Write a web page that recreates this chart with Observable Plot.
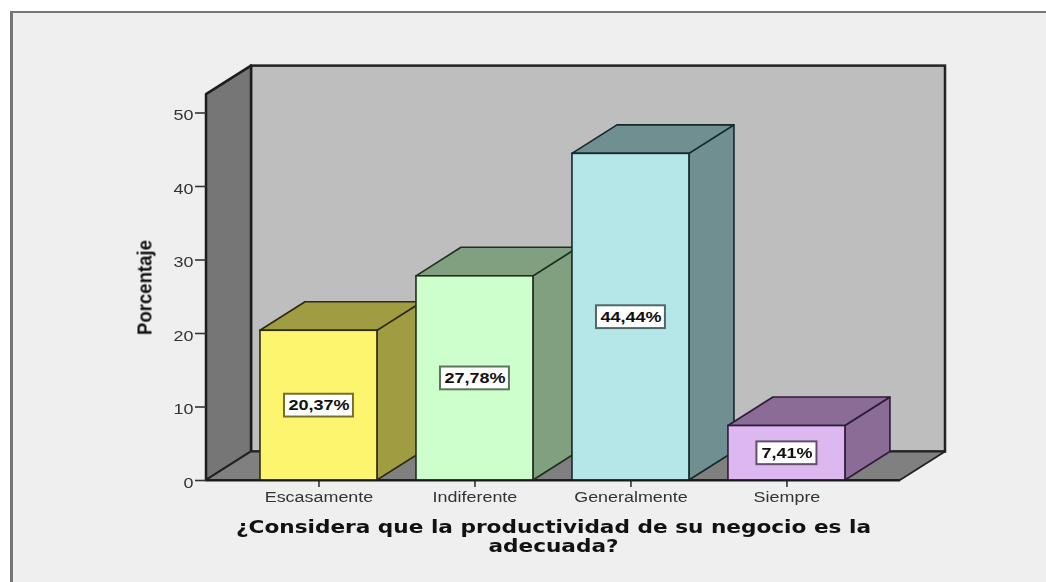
<!DOCTYPE html>
<html lang="es">
<head>
<meta charset="utf-8">
<script src="https://cdn.jsdelivr.net/npm/d3@7"></script>
<script src="https://cdn.jsdelivr.net/npm/@observablehq/plot@0.6"></script>
<style>
  html, body { margin: 0; padding: 0; background: #fff; width: 1046px; height: 582px; overflow: hidden; }
  #panel { position: absolute; left: 10px; top: 11px; right: 0; bottom: 0; background: #efefef;
           border-top: 2px solid #777; border-left: 3px solid #777; }
  #chart { position: absolute; left: 0; top: 0; }
  #chart svg { display: block; background: transparent; filter: blur(0.35px); }
</style>
</head>
<body>
<div id="panel"></div>
<div id="chart"></div>
<script>
const categories = ["Escasamente", "Indiferente", "Generalmente", "Siempre"];
const values = [20.37, 27.78, 44.44, 7.41];
const yTicks = [0, 10, 20, 30, 40, 50];
const frontColors = ["#fdf56e", "#ccffcc", "#b5e6e8", "#dcb7f0"];
const shadeColors = ["#a09c42", "#80a07f", "#6f8f90", "#8a6c96"];
const edgeColors = ["#2e2c10", "#1f2f1f", "#15292b", "#2e1c3a"];
const xTitle = ["¿Considera que la productividad de su negocio es la", "adecuada?"];
const yTitle = "Porcentaje";

// Extent of the drawing box, in category and percentage units
const xMin = -0.721, xMax = 3.728, yTop = 52.5;
const depthX = 0.2885, depthY = 3.88, halfBar = 0.375;

const side = (x, y0, y1) => [
  {x, y1: y0, y2: y1},
  {x: x + depthX, y1: y0 + depthY, y2: y1 + depthY}
];
const lid = (x0, x1, y) => [
  {y, x1: x0, x2: x1},
  {y: y + depthY, x1: x0 + depthX, x2: x1 + depthX}
];

const wallMarks = [
  Plot.rect([0], {x1: xMin + depthX, x2: xMax + depthX, y1: depthY, y2: yTop + depthY,
    fill: "#bebebe", stroke: "#222", strokeWidth: 2.5}),
  Plot.area(side(xMin, 0, yTop), {x1: "x", y1: "y1", y2: "y2",
    fill: "#767676", stroke: "#1c1c1c", strokeWidth: 2.5}),
  Plot.area(lid(xMin, xMax, 0), {y1: "y", x1: "x1", x2: "x2",
    fill: "#808080", stroke: "#222", strokeWidth: 1.8})
];

const barLabels = values.map(v => v.toFixed(2).replace(".", ",") + "%");

const barMarks = categories.flatMap((c, i) => {
  const v = values[i];
  const label = barLabels[i];
  const boxHalf = (label.length * 0.057 + 0.1) / 2;
  return [
    Plot.area(side(i + halfBar, 0, v), {x1: "x", y1: "y1", y2: "y2",
      fill: shadeColors[i], stroke: edgeColors[i], strokeWidth: 1.6}),
    Plot.area(lid(i - halfBar, i + halfBar, v), {y1: "y", x1: "x1", x2: "x2",
      fill: shadeColors[i], stroke: edgeColors[i], strokeWidth: 1.6}),
    Plot.rect([0], {x1: i - halfBar, x2: i + halfBar, y1: 0, y2: v,
      fill: frontColors[i], stroke: edgeColors[i], strokeWidth: 1.6}),
    Plot.rect([0], {x1: i - boxHalf, x2: i + boxHalf, y1: v / 2 - 1.55, y2: v / 2 + 1.55,
      fill: "#fff", stroke: d3.color(shadeColors[i]).darker(0.9).formatHex(), strokeWidth: 2}),
    Plot.text([label], {x: i, y: v / 2, text: d => d,
      fontWeight: "bold", fontSize: 15, fill: "#111"})
  ];
});

const plot = Plot.plot({
  width: 1046, height: 582,
  marginLeft: 206, marginRight: 146, marginTop: 112.5, marginBottom: 102,
  x: {domain: [xMin, xMax], range: [206, 900]},
  y: {domain: [0, 50], range: [480, 112.5]},
  style: {fontFamily: "'Liberation Sans', Arial, sans-serif", fontSize: "14px", background: "transparent", overflow: "visible"},
  marks: [
    ...wallMarks,
    ...barMarks,
    Plot.axisY({ticks: yTicks, tickSize: 11, tickPadding: 2, label: null, stroke: "#333", strokeWidth: 1.6, color: "#333", fontSize: 14}),
    Plot.axisX({ticks: [0, 1, 2, 3], tickFormat: i => categories[i], tickSize: 7, tickPadding: 5, label: null, stroke: "#333", strokeWidth: 1.6, color: "#333", fontSize: 14}),
    Plot.ruleY([0], {x1: xMin, x2: xMax, stroke: "#1c1c1c", strokeWidth: 2.2}),
    Plot.text([xTitle[0]], {x: (xMin + xMax) / 2, y: 0, dy: 47.5, text: d => d,
      fontFamily: "'DejaVu Sans', sans-serif", fontWeight: "bold", fontSize: 17, fill: "#111"}),
    Plot.text([xTitle[1]], {x: (xMin + xMax) / 2, y: 0, dy: 66.5, text: d => d,
      fontFamily: "'DejaVu Sans', sans-serif", fontWeight: "bold", fontSize: 17, fill: "#111"}),
    Plot.text([yTitle], {x: xMin, y: yTop / 2, dx: -61, rotate: -90, text: d => d,
      fontWeight: "bold", fontSize: 20, fill: "#111"})
  ]
});

document.getElementById("chart").appendChild(plot);

// The reference is stretched horizontally: fit each text to the width it has there
const texts = [...plot.querySelectorAll("text")];
const fit = (match, widthOf) => texts.filter(t => match(t.textContent)).forEach(t => {
  t.setAttribute("textLength", widthOf(t.getComputedTextLength()));
  t.setAttribute("lengthAdjust", "spacingAndGlyphs");
});
fit(s => barLabels.includes(s), n => n * 1.2);
fit(s => categories.includes(s), n => n * 1.28);
fit(s => yTicks.map(String).includes(s), n => n * 1.28);
fit(s => s === xTitle[0], () => 635);
fit(s => s === xTitle[1], () => 130);
fit(s => s === yTitle, () => 95);
// Tick labels sit a little lower than the tick in the reference
texts.filter(t => yTicks.map(String).includes(t.textContent)).forEach(t => t.setAttribute("y", 7));
</script>
</body>
</html>
